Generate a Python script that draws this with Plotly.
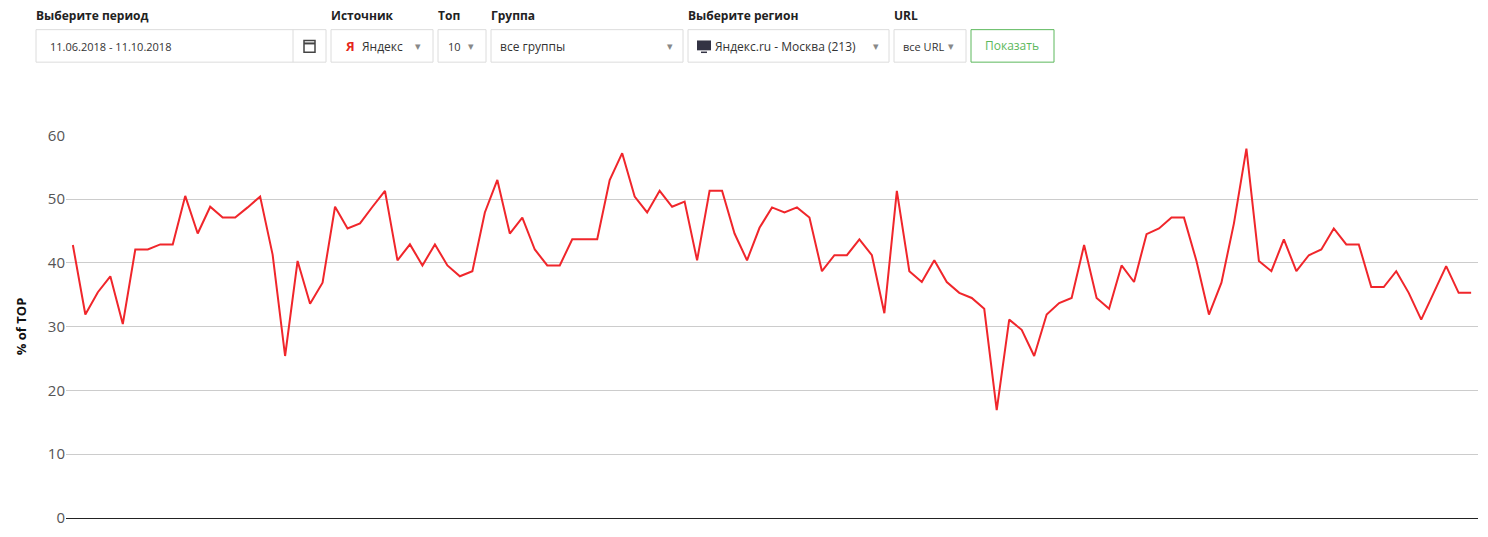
import plotly.graph_objects as go

values = [42.8,31.9,35.4,37.9,30.4,42.1,42.1,42.9,42.9,50.5,44.6,48.8,47.1,47.1,48.7,50.4,41.3,25.4,40.3,33.6,
          36.9,48.8,45.4,46.2,48.8,51.3,40.4,42.9,39.6,42.9,39.6,37.9,38.7,47.9,53.0,44.6,47.1,42.1,
          39.6,39.6,43.7,43.7,43.7,53.0,57.2,50.4,47.9,51.3,48.8,49.6,40.4,51.3,51.3,44.6,40.4,45.5,48.7,
          47.9,48.7,47.1,38.7,41.2,41.2,43.7,41.2,32.1,51.3,38.7,37.0,40.4,37.0,35.3,34.5,32.8,16.9,
          31.1,29.5,25.4,31.9,33.7,34.5,42.8,34.5,32.8,39.6,37.0,44.5,45.4,47.1,47.1,40.3,31.9,36.9,46.2,
          57.9,40.3,38.7,43.7,38.7,41.2,42.1,45.4,42.9,42.9,36.2,36.2,38.7,35.3,31.1,35.3,39.5,35.3,35.3]
x = list(range(len(values)))
y_ticks = [0, 10, 20, 30, 40, 50, 60]

OFF = 8  # page margin
W, H = 1488 - OFF, 537 - OFF
L, R, T, B = 66, 1478, 135, 524
def px(X): return (X - L) / (R - L)
def py(Y): return (B - Y) / (B - T)

fig = go.Figure(go.Scatter(x=x, y=values, mode="lines",
                           line=dict(color="#f0262b", width=2), hoverinfo="y"))

shapes, ann = [], []
def box(x0, x1, y0=28, y1=61, color="#dcdcdc"):
    shapes.append(dict(type="rect", xref="paper", yref="paper", x0=px(x0), x1=px(x1),
                       y0=py(y1), y1=py(y0), line=dict(color=color, width=1), fillcolor="white", layer="above"))
def text(X, Y, s, size=12, color="#333", bold=False, anchor="left", family="Open Sans"):
    if bold: s = "<b>" + s + "</b>"
    ann.append(dict(xref="paper", yref="paper", x=px(X), y=py(Y), text=s, showarrow=False,
                    xanchor=anchor, yanchor="middle", font=dict(size=size, color=color, family=family)))

labels = [(36, "Выберите период"), (331, "Источник"), (438, "Топ"), (491, "Группа"),
          (688, "Выберите регион"), (894, "URL")]
for X, s in labels:
    text(X - 2, 14, s, size=12, color="#222", bold=True)

box(36, 326); box(331, 433); box(438, 486); box(491, 683); box(688, 889); box(894, 966)
box(971, 1054, color="#5cb85c")
shapes.append(dict(type="line", xref="paper", yref="paper", x0=px(293), x1=px(293), y0=py(61), y1=py(28),
                   line=dict(color="#dcdcdc", width=1), layer="above"))
# calendar icon
shapes.append(dict(type="rect", xref="paper", yref="paper", x0=px(304), x1=px(315), y0=py(51), y1=py(39),
                   line=dict(color="#444", width=1.5), fillcolor="white", layer="above"))
shapes.append(dict(type="line", xref="paper", yref="paper", x0=px(304), x1=px(315), y0=py(42), y1=py(42),
                   line=dict(color="#444", width=2), layer="above"))
# monitor icon
shapes.append(dict(type="rect", xref="paper", yref="paper", x0=px(697), x1=px(711), y0=py(49), y1=py(39),
                   line=dict(color="#334", width=0), fillcolor="#334", layer="above"))
shapes.append(dict(type="line", xref="paper", yref="paper", x0=px(701), x1=px(707), y0=py(51), y1=py(51),
                   line=dict(color="#334", width=1.5), layer="above"))

text(48, 45, "11.06.2018 - 11.10.2018", size=11)
text(343, 45, "Я", size=13, color="#e5281c", bold=True)
text(360, 45, "Яндекс", size=12)
text(446, 45, "10", size=11)
text(498, 45, "все группы", size=12)
text(713, 45, "Яндекс.ru - Москва (213)", size=12)
text(901, 45, "все URL", size=11)
for X in (418, 471, 670, 876, 951):
    text(X, 44, "▾", size=11, color="#888", anchor="center")
text(1012, 44, "Показать", size=12, color="#5cb85c", anchor="center")

fig.update_layout(
    width=W, height=H, margin=dict(l=L - OFF, r=W - (R - OFF), t=T - OFF, b=H - (B - OFF)),
    paper_bgcolor="white", plot_bgcolor="white", showlegend=False,
    shapes=shapes, annotations=ann,
    xaxis=dict(range=[-0.55, len(values) - 0.45], showticklabels=False, showgrid=False,
               zeroline=False, showline=False, ticks=""),
    yaxis=dict(range=[0, 60.05], tickvals=y_ticks, showgrid=True, gridcolor="#cccccc",
               zeroline=True, zerolinecolor="#222", zerolinewidth=1,
               tickfont=dict(size=15, color="#555", family="Open Sans"), ticks="", ticklen=0,
               title=dict(text="<b>% of TOP</b>", font=dict(size=13, color="#111", family="Open Sans"), standoff=18)),
)
fig.write_html("out.html")
